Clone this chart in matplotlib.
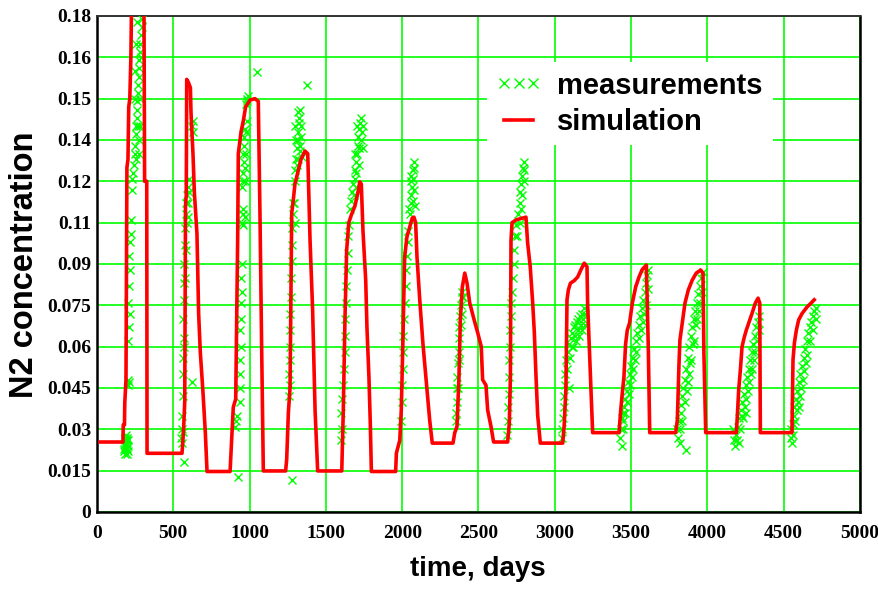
import matplotlib
matplotlib.use("Agg")
import matplotlib.pyplot as plt
from matplotlib.lines import Line2D
from matplotlib.patches import Rectangle

# simulation curve (time in days, N2 concentration)
sim_t = [20, 170, 172, 180, 182, 190, 196, 203, 208, 215, 222, 232, 306, 312, 326, 328,
         557, 562, 568, 575, 580, 585, 588, 598, 612, 616, 629, 638, 655, 666, 677, 695, 710, 721,
         872, 883, 893, 909, 922, 926, 944, 959, 974, 1003, 1035, 1057, 1068, 1079, 1090,
         1236, 1243, 1254, 1265, 1276, 1286, 1297, 1315, 1337, 1363, 1381, 1396, 1413, 1429, 1446,
         1604, 1614, 1625, 1636, 1650, 1668, 1690, 1710, 1722, 1732, 1743, 1761, 1769, 1782, 1791, 1798,
         1957, 1962, 1984, 1994, 2005, 2016, 2031, 2049, 2066, 2077, 2088, 2097, 2115, 2136, 2158, 2180, 2197,
         2333, 2344, 2359, 2372, 2381, 2394, 2410, 2425, 2442, 2470, 2495, 2518, 2527, 2549, 2560, 2582, 2599,
         2691, 2702, 2709, 2713, 2720, 2746, 2779, 2811, 2822, 2839, 2855, 2866, 2877, 2888, 2905,
         3052, 3062, 3073, 3080, 3089, 3102, 3128, 3150, 3172, 3193, 3211, 3215, 3226, 3237, 3248,
         3421, 3432, 3442, 3453, 3464, 3475, 3490, 3508, 3530, 3552, 3573, 3600, 3613, 3622,
         3792, 3803, 3814, 3820, 3835, 3853, 3875, 3901, 3927, 3956, 3971, 3977, 3989,
         4190, 4196, 4205, 4216, 4227, 4242, 4255, 4271, 4292, 4314, 4332, 4343, 4347,
         4554, 4561, 4570, 4583, 4598, 4620, 4653, 4679, 4700]
sim_c = [.0254, .0254, .0316, .0316, .0396, .048, .125, .128, .147, .150, .165, .21, .21, .12, .12, .0213,
         .0213, .025, .031, .040, .111, .115, .157, .156, .154, .145, .130, .116, .101, .072, .058, .043, .0287, .0147,
         .0147, .027, .038, .041, .100, .130, .138, .142, .147, .1495, .150, .149, .108, .0595, .0149,
         .0149, .019, .036, .045, .1085, .113, .119, .123, .128, .131, .130, .0987, .0733, .037, .0149,
         .0149, .037, .070, .095, .105, .108, .111, .116, .1198, .119, .102, .084, .067, .049, .032, .0147,
         .0147, .0214, .026, .037, .063, .0925, .0998, .1034, .1067, .107, .105, .0925, .077, .061, .047, .0334, .025,
         .025, .0287, .031, .049, .0697, .0817, .0867, .083, .076, .070, .065, .060, .048, .046, .037, .031, .0254,
         .0254, .0323, .049, .0987, .105, .106, .1065, .107, .0976, .089, .076, .065, .049, .035, .025,
         .025, .032, .045, .077, .0806, .083, .084, .0853, .088, .0903, .089, .0758, .060, .044, .0288,
         .0288, .037, .043, .049, .061, .066, .0686, .0758, .0817, .0853, .088, .0896, .0588, .0288,
         .0288, .0334, .054, .0624, .0686, .0758, .0806, .0842, .0867, .0878, .0867, .0577, .0288,
         .0288, .0346, .0443, .0515, .060, .0635, .066, .0686, .072, .0758, .0776, .0758, .0288,
         .0288, .0552, .0613, .066, .0697, .072, .0744, .0758, .077]

meas_t = [178, 181, 184, 186, 188, 190, 192, 195, 197, 200, 203, 206,
          200, 205, 210, 203, 208, 213, 206, 212, 218, 210, 215, 220, 222, 228, 232,
          238, 242, 246, 250, 254, 256, 260, 262, 265, 268, 270, 272, 275, 278, 280, 284, 288, 292, 296,
          180, 187, 194, 199, 183, 248, 252, 258, 262, 255, 268, 272, 285, 290, 282, 276,
          550, 555, 558, 565, 572, 560, 562, 565, 563, 567, 565, 570, 568, 572, 574, 576,
          580, 585, 590, 595, 600, 595, 625, 632, 628, 622,
          570, 575, 580, 598, 605, 588,
          905, 910, 915, 922, 935, 938, 940, 937, 942, 940, 945, 943, 948, 946, 950,
          952, 955, 958, 955, 960, 963, 958, 965, 962, 968, 975, 980, 985, 990, 1051,
          970, 975, 978, 972, 985, 950, 960, 968,
          1280, 1258, 1262, 1260, 1265, 1263, 1268, 1266, 1270, 1272, 1275, 1278, 1280, 1283, 1285,
          1295, 1300, 1305, 1310, 1315, 1318, 1322, 1325, 1330, 1335, 1340, 1312, 1328, 1345, 1374,
          1305, 1320, 1300, 1315, 1332, 1290, 1295,
          1600, 1604, 1602, 1606, 1610, 1620, 1625, 1622, 1628, 1632, 1630, 1640, 1645, 1648, 1652,
          1660, 1665, 1670, 1675, 1682, 1688, 1692, 1698, 1702, 1708, 1712, 1718, 1722, 1728, 1735, 1740, 1700, 1715,
          1690, 1705, 1720, 1732, 1695, 1745,
          1995, 1998, 2000, 2003, 2005, 2008, 2012, 2020, 2025, 2028, 2032, 2035, 2040,
          2050, 2055, 2060, 2065, 2068, 2072, 2075, 2078, 2082,
          2060, 2070, 2080, 2055, 2045,
          2350, 2355, 2360, 2358, 2362, 2365, 2370, 2372, 2375, 2380, 2385, 2390, 2395, 2400,
          2365, 2375, 2385, 2395,
          2690, 2692, 2695, 2698, 2700, 2703, 2705, 2708, 2710, 2712, 2720, 2725, 2730, 2735, 2740, 2745,
          2760, 2770, 2775, 2780, 2785, 2790, 2795, 2778,
          2785, 2795, 2800, 2770, 2755,
          3045, 3050, 3055, 3058, 3062, 3065, 3070, 3075,
          3085, 3095, 3105, 3115, 3125, 3135, 3145, 3155, 3165, 3175, 3185, 3195, 3110, 3130, 3150, 3170,
          3080, 3100, 3120, 3140, 3160, 3180, 3090, 3200, 3190,
          3425, 3432, 3440, 3445, 3450, 3455, 3460, 3470, 3480, 3490, 3500, 3510, 3520, 3530, 3540, 3485, 3505, 3525,
          3550, 3560, 3570, 3580, 3590, 3600, 3605, 3610, 3565, 3585,
          3440, 3460, 3475, 3495, 3515, 3535, 3555, 3575, 3595, 3610, 3450,
          3800, 3810, 3820, 3860, 3815, 3825, 3830, 3835, 3840,
          3850, 3860, 3870, 3880, 3890, 3900, 3910, 3920, 3930, 3865, 3885, 3905, 3925,
          3940, 3950, 3960, 3970, 3945,
          3820, 3835, 3850, 3870, 3890, 3910, 3930, 3950, 3965, 3880,
          4170, 4175, 4180, 4190, 4200, 4205, 4210,
          4220, 4230, 4240, 4250, 4260, 4270, 4280, 4290, 4300, 4235, 4255, 4275, 4295,
          4310, 4320, 4330, 4340, 4315,
          4195, 4215, 4230, 4245, 4265, 4285, 4305, 4325, 4340, 4250,
          4545, 4550, 4555, 4560, 4565, 4570,
          4580, 4590, 4600, 4610, 4620, 4630, 4640, 4650, 4585, 4605, 4625, 4645,
          4660, 4670, 4680, 4690, 4700, 4710,
          4560, 4575, 4595, 4615, 4635, 4655, 4675, 4695, 4710, 4600]
meas_c = [.022, .026, .021, .024, .028, .023, .025, .021, .027, .024, .022, .026,
          .046, .048, .047, .062, .067, .072, .076, .082, .088, .093, .098, .101, .106, .117, .121,
          .123, .126, .130, .133, .137, .140, .143, .146, .149, .152, .155, .158, .161, .164, .167, .170, .173, .176, .179,
          .023, .025, .023, .026, .027, .150, .160, .170, .178, .128, .140, .135, .150, .165, .140, .130,
          .027, .030, .025, .029, .0183, .035, .042, .050, .056, .063, .070, .077, .083, .090, .097, .103,
          .108, .112, .115, .118, .121, .107, .140, .138, .142, .047,
          .060, .085, .095, .112, .116, .105,
          .031, .033, .035, .0127, .040, .045, .050, .055, .060, .066, .070, .076, .080, .085, .090,
          .105, .108, .110, .120, .123, .127, .130, .133, .136, .139, .148, .150, .149, .151, .1595,
          .125, .130, .138, .120, .142, .118, .104, .107,
          .0116, .042, .046, .050, .055, .060, .066, .072, .078, .085, .091, .097, .103, .108, .112,
          .120, .124, .128, .132, .135, .138, .141, .143, .146, .140, .136, .126, .131, .129, .155,
          .135, .128, .140, .145, .133, .112, .105,
          .026, .030, .036, .041, .046, .052, .058, .064, .070, .076, .082, .088, .094, .100, .104,
          .110, .113, .116, .119, .115, .121, .124, .127, .130, .133, .136, .139, .141, .143, .138, .132, .118, .126,
          .130, .140, .132, .135, .123, .140,
          .033, .040, .046, .052, .058, .064, .070, .076, .082, .088, .093, .098, .102,
          .108, .112, .115, .118, .121, .124, .127, .117, .111,
          .122, .113, .125, .120, .110,
          .033, .036, .040, .045, .049, .054, .058, .063, .067, .071, .075, .078, .080, .078,
          .045, .055, .068, .072,
          .028, .033, .038, .043, .049, .055, .060, .066, .071, .076, .080, .085, .090, .095, .100, .104,
          .108, .112, .116, .119, .122, .125, .127, .110,
          .115, .120, .124, .105, .100,
          .027, .030, .034, .038, .042, .046, .050, .055,
          .058, .061, .063, .065, .067, .068, .069, .070, .071, .072, .070, .068, .060, .064, .066, .068,
          .052, .056, .060, .062, .064, .066, .045, .072, .074,
          .027, .030, .024, .033, .036, .038, .041, .044, .047, .050, .053, .056, .059, .062, .065, .043, .049, .055,
          .068, .071, .074, .077, .080, .083, .086, .088, .066, .072,
          .034, .036, .040, .046, .052, .058, .063, .069, .075, .081, .030,
          .030, .027, .025, .0225, .033, .036, .039, .042, .045,
          .048, .052, .056, .060, .064, .067, .070, .073, .076, .044, .054, .061, .068,
          .079, .082, .085, .087, .073,
          .030, .033, .040, .047, .055, .062, .070, .076, .080, .050,
          .030, .026, .024, .028, .031, .025, .034,
          .037, .040, .043, .046, .049, .052, .055, .058, .061, .034, .041, .047, .052,
          .064, .067, .069, .071, .058,
          .026, .030, .035, .038, .044, .050, .055, .062, .066, .036,
          .027, .030, .025, .032, .035, .038,
          .041, .044, .047, .050, .053, .056, .059, .062, .037, .042, .048, .054,
          .065, .067, .069, .071, .073, .070,
          .028, .033, .040, .045, .051, .057, .062, .066, .074, .038]

x_ticks = [0, 500, 1000, 1500, 2000, 2500, 3000, 3500, 4000, 4500, 5000]
y_ticks = [0, 0.015, 0.03, 0.045, 0.06, 0.075, 0.09, 0.105, 0.12, 0.135, 0.15, 0.165, 0.18]
y_tick_labels = ["0", "0.015", "0.03", "0.045", "0.06", "0.075", "0.09",
                 "0.11", "0.12", "0.14", "0.15", "0.16", "0.18"]

green = "#00ff00"
red = "#ff0000"

fig = plt.figure(figsize=(8.79, 5.90), dpi=100)
ax = fig.add_axes([97 / 879, 1 - 512 / 590, 763 / 879, 496 / 590])

ax.set_axisbelow(True)
ax.grid(True, color=green, linewidth=1.2)

ax.plot(meas_t, meas_c, linestyle="none", marker="x", color=green,
        markersize=5.5, markeredgewidth=1.0, zorder=3)
ax.plot(sim_t, sim_c, color=red, linewidth=2.6, zorder=4)

ax.set_xlim(0, 5000)
ax.set_ylim(0, 0.18)
ax.set_xticks(x_ticks)
ax.set_yticks(y_ticks)
ax.set_yticklabels(y_tick_labels)

for lab in ax.get_xticklabels() + ax.get_yticklabels():
    lab.set_fontfamily("Liberation Serif")
    lab.set_fontweight("bold")
    lab.set_fontsize(14)
ax.tick_params(axis="x", length=0, pad=9)
ax.tick_params(axis="y", length=0, pad=4)

for side in ["left", "bottom", "right"]:
    ax.spines[side].set_linewidth(1.8)
    ax.spines[side].set_color("black")
ax.spines["top"].set_linewidth(1.4)
ax.spines["top"].set_color("#333333")

ax.set_xlabel("time, days", fontsize=20, fontweight="bold", family="Liberation Sans", va="top")
ax.xaxis.set_label_coords(0.499, -0.088)
ax.set_ylabel("N2 concentration", fontsize=23.5, fontweight="bold", family="Liberation Sans")
ax.yaxis.set_label_coords(-0.075, 0.498)

# white box behind the legend, hiding the grid
ax.add_patch(Rectangle((0.511, 0.74), 0.375, 0.167, transform=ax.transAxes,
                       facecolor="white", edgecolor="none", zorder=1))

handles = [Line2D([], [], linestyle="none", marker="x", color=green, markersize=7, markeredgewidth=1.0),
           Line2D([], [], color=red, linewidth=2.6)]
ax.legend(handles, ["measurements", "simulation"], loc="upper left",
          bbox_to_anchor=(0.522, 0.888), frameon=False, numpoints=3,
          handlelength=1.6, handletextpad=0.5, labelspacing=0.3,
          borderaxespad=0, borderpad=0,
          prop=dict(family="Liberation Sans", weight="bold", size=21))

fig.savefig("out.png", dpi=100)
